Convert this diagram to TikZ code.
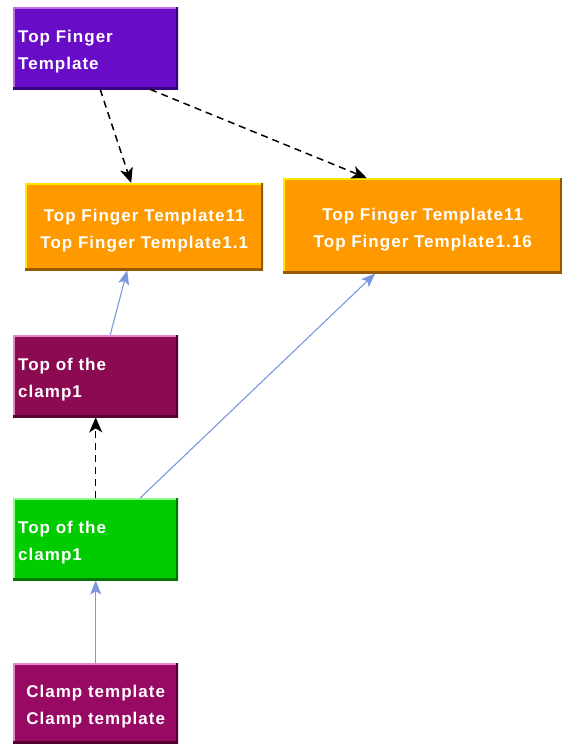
\documentclass[tikz,border=0pt]{standalone}
\usepackage{fontspec}
\setsansfont[LetterSpace=6]{Liberation Sans}
\usepackage{tikz}
\usetikzlibrary{arrows.meta}
\definecolor{fingerpurple}{RGB}{104,12,200}
\definecolor{fingerlight}{RGB}{190,110,235}
\definecolor{fingerdark}{RGB}{60,0,130}
\definecolor{tmplorange}{RGB}{255,153,0}
\definecolor{tmpllight}{RGB}{255,232,0}
\definecolor{tmpldark}{RGB}{150,90,0}
\definecolor{clampred}{RGB}{140,10,82}
\definecolor{clamplight}{RGB}{235,130,205}
\definecolor{clampdark}{RGB}{85,0,50}
\definecolor{clampgreen}{RGB}{0,204,0}
\definecolor{greenlight}{RGB}{140,255,140}
\definecolor{greendark}{RGB}{0,120,0}
\definecolor{linkblue}{RGB}{122,152,222}
\tikzset{
every node/.style={rectangle, anchor=north west, inner ysep=0pt, text=white, text height=20pt,
  font=\sffamily\bfseries\fontsize{17}{27}\selectfont},
bevel/.style n args={3}{fill=#1, path picture={
  \draw[#2, line width=4pt] (path picture bounding box.south west) |- (path picture bounding box.north east);
  \draw[#3, line width=5pt] (path picture bounding box.south west) -| (path picture bounding box.north east);}},
leftcell/.style={text width=155pt, inner xsep=5pt, align=left, minimum height=#1},
midcell/.style={text width=#1, inner xsep=0pt, align=center},
uses/.style={->, >={Stealth[length=15pt,width=13pt,inset=4pt]}, dash pattern=on 7pt off 5pt, line width=1.5pt},
link/.style={->, >={Stealth[length=14pt,width=11pt,inset=3pt]}, linkblue, line width=1.1pt}}

\begin{document}
\begin{tikzpicture}[x=1pt, y=-1pt]
\useasboundingbox[fill=white] (0,0) rectangle (562,744);
% the boxes
\node[bevel={fingerpurple}{fingerlight}{fingerdark}, leftcell=82pt] (ftop) at (13,7) {Top Finger\\Template};
\node[bevel={tmplorange}{tmpllight}{tmpldark}, midcell=238pt, minimum height=87pt] (tf1) at (25,183) {Top Finger Template11\\Top Finger Template1.1};
\node[bevel={tmplorange}{tmpllight}{tmpldark}, midcell=279pt, minimum height=95pt] (tf2) at (283,178) {Top Finger Template11\\Top Finger Template1.16};
\node[bevel={clampred}{clamplight}{clampdark}, leftcell=82pt] (clampA) at (13,335) {Top of the\\clamp1};
\node[bevel={clampgreen}{greenlight}{greendark}, leftcell=82pt] (clampB) at (13,498) {Top of the\\clamp1};
\node[bevel={clampred!90!magenta}{clamplight}{clampdark}, midcell=165pt, minimum height=80pt] (ctmpl) at (13,663) {Clamp template\\Clamp template};
% connectors
\draw[uses] ([xshift=4.5pt]ftop.south) -- ([xshift=-13pt]tf1.north);
\draw[uses] ([xshift=54.5pt]ftop.south) -- ([xshift=-56pt]tf2.north);
\draw[uses] (clampB.north) -- (clampA.south);
\draw[link] ([xshift=14.5pt]clampA.north) -- ([xshift=-17pt]tf1.south);
\draw[link] ([xshift=44.5pt]clampB.north) -- ([xshift=-47.5pt]tf2.south);
\draw[link] (ctmpl.north) -- (clampB.south);
\end{tikzpicture}
\end{document}
